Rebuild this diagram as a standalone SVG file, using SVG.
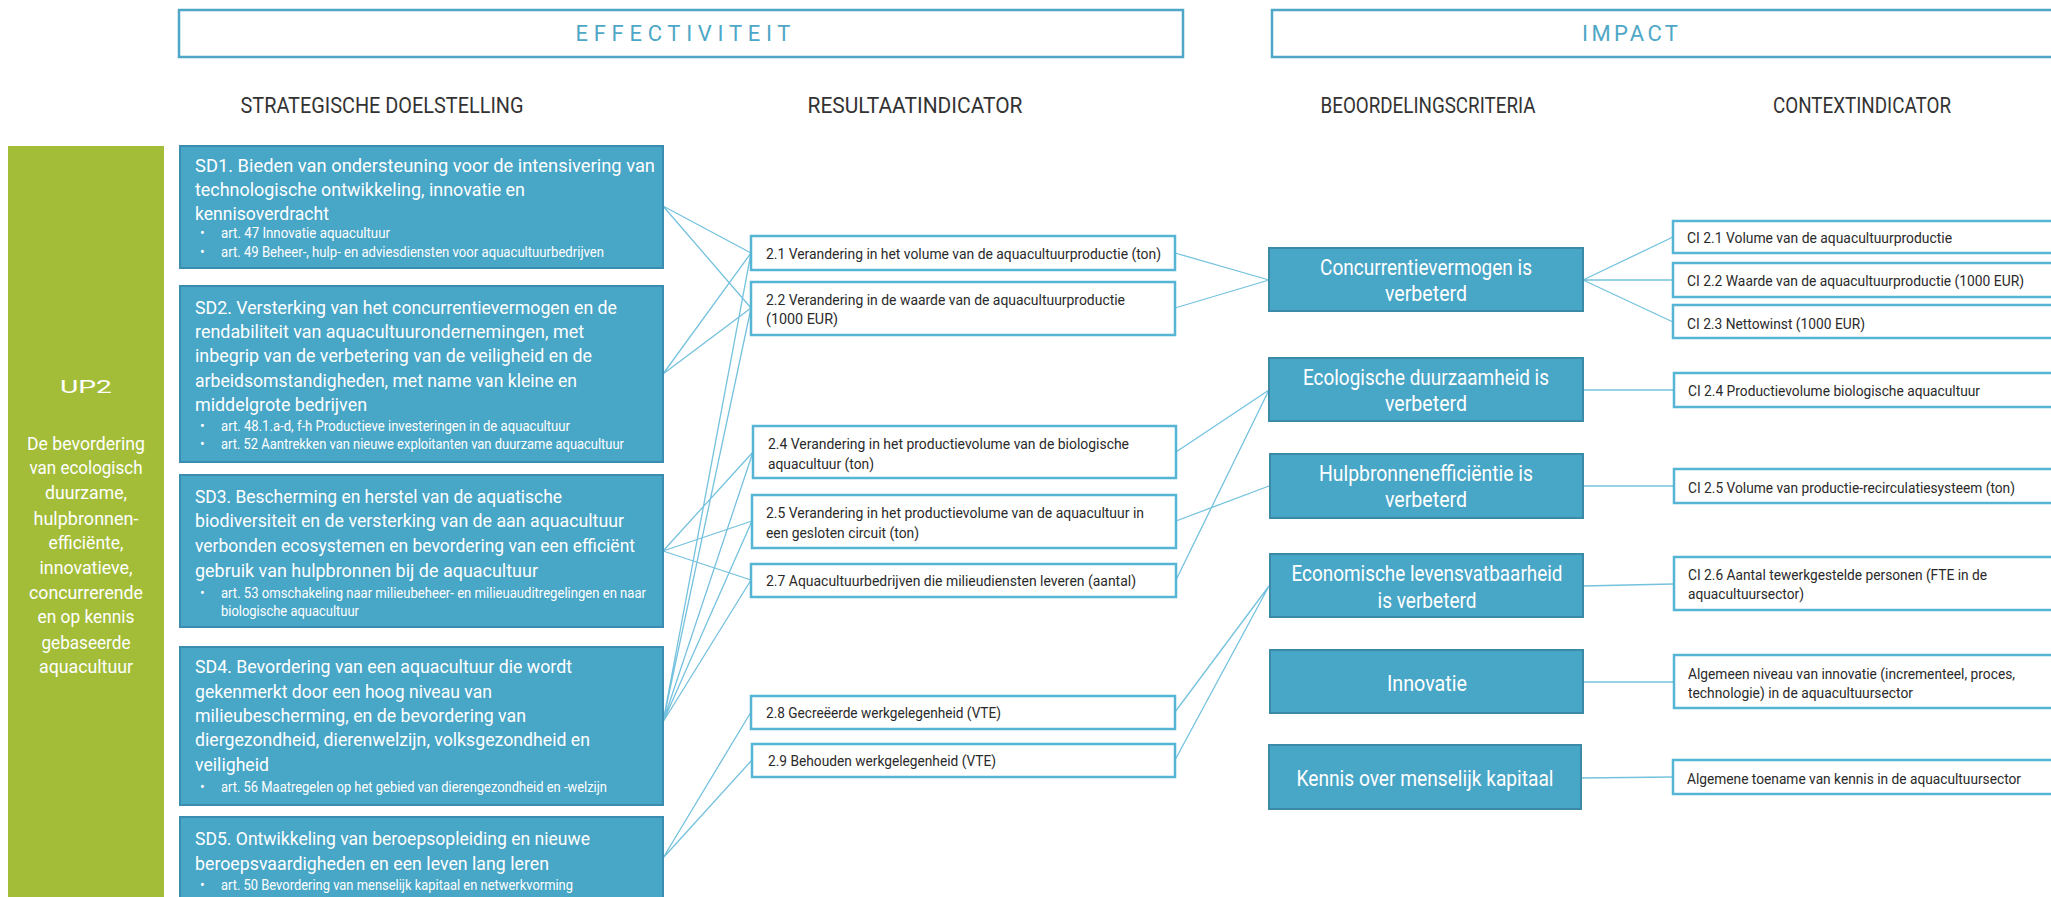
<svg xmlns="http://www.w3.org/2000/svg" width="2051" height="897" viewBox="0 0 2051 897">
<style>
text{font-family:"Roboto","Liberation Sans",sans-serif}
.ttl{fill:none;stroke:#4ea7c6;stroke-width:2.5}
.tt{fill:#4ea7c6;font-size:22px;text-anchor:middle}
.hd{fill:#333;font-size:22px;text-anchor:middle}
.gr{fill:#a3bd38}
.gt{fill:#fff;font-size:19px;text-anchor:middle}
.sd{fill:#48a6c7;stroke:#3a8db0;stroke-width:2}
.st{fill:#fff;font-size:19px}
.sb{fill:#fff;font-size:14px}
.ri{fill:#fff;stroke:#56b4d4;stroke-width:2.5}
.rt{fill:#2a2a2a;font-size:15.5px}
.bc{fill:#48a6c7;stroke:#3a8aa8;stroke-width:2}
.bt{fill:#fff;font-size:22px;text-anchor:middle}
.cn{stroke:#74c2de;stroke-width:1.3;fill:none}
</style>
<g id="title-effectiviteit">
<rect class="ttl" x="179" y="10" width="1004" height="47"/>
<text class="tt" x="683" y="41" textLength="215" lengthAdjust="spacing">EFFECTIVITEIT</text>
</g>
<g id="title-impact">
<rect class="ttl" x="1272" y="10" width="800" height="47"/>
<text class="tt" x="1630" y="41" textLength="96" lengthAdjust="spacing">IMPACT</text>
</g>
<g id="headers">
<text class="hd" x="382" y="113" textLength="283" lengthAdjust="spacingAndGlyphs">STRATEGISCHE DOELSTELLING</text>
<text class="hd" x="915" y="113" textLength="215" lengthAdjust="spacingAndGlyphs">RESULTAATINDICATOR</text>
<text class="hd" x="1428" y="113" textLength="215" lengthAdjust="spacingAndGlyphs">BEOORDELINGSCRITERIA</text>
<text class="hd" x="1862" y="113" textLength="178" lengthAdjust="spacingAndGlyphs">CONTEXTINDICATOR</text>
</g>
<g id="connectors">
<path class="cn" d="M663 206L751 253M663 206L751 308M663 374L751 253M663 374L751 308M663 551L753 452M663 551L752 521M663 551L751 580M663 722L751 253M663 722L751 308M663 722L753 452M663 722L752 521M663 722L751 580M663 858L751 712M663 858L752 760"/>
<path class="cn" d="M1175 253L1269 280M1175 308L1269 280M1176 452L1269 390M1176 580L1269 390M1176 521L1269 486M1175 712L1269 586M1175 760L1269 586"/>
<path class="cn" d="M1583 280L1673 237M1583 280L1673 280M1583 280L1673 322M1583 390L1673 390M1583 486L1673 486M1583 586L1673 584M1583 682L1673 682M1581 778L1673 777"/>
</g>
<g id="up2">
<rect class="gr" x="8" y="146" width="156" height="760"/>
<text class="gt" x="86" y="393" font-size="32" textLength="52" lengthAdjust="spacingAndGlyphs">UP2</text>
<text class="gt" x="86" y="450" textLength="118" lengthAdjust="spacingAndGlyphs">De bevordering</text>
<text class="gt" x="86" y="474" textLength="113" lengthAdjust="spacingAndGlyphs">van ecologisch</text>
<text class="gt" x="86" y="499" textLength="82" lengthAdjust="spacingAndGlyphs">duurzame,</text>
<text class="gt" x="86" y="525" textLength="105" lengthAdjust="spacingAndGlyphs">hulpbronnen-</text>
<text class="gt" x="86" y="549" textLength="75" lengthAdjust="spacingAndGlyphs">efficiënte,</text>
<text class="gt" x="86" y="574" textLength="93" lengthAdjust="spacingAndGlyphs">innovatieve,</text>
<text class="gt" x="86" y="599" textLength="114" lengthAdjust="spacingAndGlyphs">concurrerende</text>
<text class="gt" x="86" y="623" textLength="97" lengthAdjust="spacingAndGlyphs">en op kennis</text>
<text class="gt" x="86" y="649" textLength="89" lengthAdjust="spacingAndGlyphs">gebaseerde</text>
<text class="gt" x="86" y="673" textLength="94" lengthAdjust="spacingAndGlyphs">aquacultuur</text>
</g>
<g id="sd1">
<rect class="sd" x="180" y="146" width="483" height="122"/>
<text class="st" x="195" y="172" textLength="460" lengthAdjust="spacingAndGlyphs">SD1. Bieden van ondersteuning voor de intensivering van</text>
<text class="st" x="195" y="196" textLength="330" lengthAdjust="spacingAndGlyphs">technologische ontwikkeling, innovatie en</text>
<text class="st" x="195" y="220" textLength="134" lengthAdjust="spacingAndGlyphs">kennisoverdracht</text>
<text class="sb" x="200" y="238">•</text><text class="sb" x="221" y="238" textLength="169" lengthAdjust="spacingAndGlyphs">art. 47 Innovatie aquacultuur</text>
<text class="sb" x="200" y="257">•</text><text class="sb" x="221" y="257" textLength="383" lengthAdjust="spacingAndGlyphs">art. 49 Beheer-, hulp- en adviesdiensten voor aquacultuurbedrijven</text>
</g>
<g id="sd2">
<rect class="sd" x="180" y="286" width="483" height="176"/>
<text class="st" x="195" y="314" textLength="422" lengthAdjust="spacingAndGlyphs">SD2. Versterking van het concurrentievermogen en de</text>
<text class="st" x="195" y="338" textLength="389" lengthAdjust="spacingAndGlyphs">rendabiliteit van aquacultuurondernemingen, met</text>
<text class="st" x="195" y="362" textLength="397" lengthAdjust="spacingAndGlyphs">inbegrip van de verbetering van de veiligheid en de</text>
<text class="st" x="195" y="387" textLength="382" lengthAdjust="spacingAndGlyphs">arbeidsomstandigheden, met name van kleine en</text>
<text class="st" x="195" y="411" textLength="172" lengthAdjust="spacingAndGlyphs">middelgrote bedrijven</text>
<text class="sb" x="200" y="431">•</text><text class="sb" x="221" y="431" textLength="349" lengthAdjust="spacingAndGlyphs">art. 48.1.a-d, f-h Productieve investeringen in de aquacultuur</text>
<text class="sb" x="200" y="449">•</text><text class="sb" x="221" y="449" textLength="403" lengthAdjust="spacingAndGlyphs">art. 52 Aantrekken van nieuwe exploitanten van duurzame aquacultuur</text>
</g>
<g id="sd3">
<rect class="sd" x="180" y="475" width="483" height="152"/>
<text class="st" x="195" y="503" textLength="367" lengthAdjust="spacingAndGlyphs">SD3. Bescherming en herstel van de aquatische</text>
<text class="st" x="195" y="527" textLength="429" lengthAdjust="spacingAndGlyphs">biodiversiteit en de versterking van de aan aquacultuur</text>
<text class="st" x="195" y="552" textLength="440" lengthAdjust="spacingAndGlyphs">verbonden ecosystemen en bevordering van een efficiënt</text>
<text class="st" x="195" y="577" textLength="343" lengthAdjust="spacingAndGlyphs">gebruik van hulpbronnen bij de aquacultuur</text>
<text class="sb" x="200" y="598">•</text><text class="sb" x="221" y="598" textLength="425" lengthAdjust="spacingAndGlyphs">art. 53 omschakeling naar milieubeheer- en milieuauditregelingen en naar</text>
<text class="sb" x="221" y="616" textLength="138" lengthAdjust="spacingAndGlyphs">biologische aquacultuur</text>
</g>
<g id="sd4">
<rect class="sd" x="180" y="647" width="483" height="158"/>
<text class="st" x="195" y="673" textLength="377" lengthAdjust="spacingAndGlyphs">SD4. Bevordering van een aquacultuur die wordt</text>
<text class="st" x="195" y="698" textLength="297" lengthAdjust="spacingAndGlyphs">gekenmerkt door een hoog niveau van</text>
<text class="st" x="195" y="722" textLength="331" lengthAdjust="spacingAndGlyphs">milieubescherming, en de bevordering van</text>
<text class="st" x="195" y="746" textLength="395" lengthAdjust="spacingAndGlyphs">diergezondheid, dierenwelzijn, volksgezondheid en</text>
<text class="st" x="195" y="771" textLength="74" lengthAdjust="spacingAndGlyphs">veiligheid</text>
<text class="sb" x="200" y="792">•</text><text class="sb" x="221" y="792" textLength="386" lengthAdjust="spacingAndGlyphs">art. 56 Maatregelen op het gebied van dierengezondheid en -welzijn</text>
</g>
<g id="sd5">
<rect class="sd" x="180" y="817" width="483" height="90"/>
<text class="st" x="195" y="845" textLength="395" lengthAdjust="spacingAndGlyphs">SD5. Ontwikkeling van beroepsopleiding en nieuwe</text>
<text class="st" x="195" y="870" textLength="354" lengthAdjust="spacingAndGlyphs">beroepsvaardigheden en een leven lang leren</text>
<text class="sb" x="200" y="890">•</text><text class="sb" x="221" y="890" textLength="352" lengthAdjust="spacingAndGlyphs">art. 50 Bevordering van menselijk kapitaal en netwerkvorming</text>
</g>
<g id="ri21">
<rect class="ri" x="751" y="236" width="424" height="34"/>
<text class="rt" x="766" y="258.5" textLength="395" lengthAdjust="spacingAndGlyphs">2.1 Verandering in het volume van de aquacultuurproductie (ton)</text>
</g>
<g id="ri22">
<rect class="ri" x="751" y="282" width="424" height="53"/>
<text class="rt" x="766" y="304.5" textLength="359" lengthAdjust="spacingAndGlyphs">2.2 Verandering in de waarde van de aquacultuurproductie</text>
<text class="rt" x="766" y="323.5" textLength="72" lengthAdjust="spacingAndGlyphs">(1000  EUR)</text>
</g>
<g id="ri24">
<rect class="ri" x="753" y="426" width="423" height="52"/>
<text class="rt" x="768" y="448.5" textLength="361" lengthAdjust="spacingAndGlyphs">2.4  Verandering in het productievolume van de biologische</text>
<text class="rt" x="768" y="468.5" textLength="106" lengthAdjust="spacingAndGlyphs">aquacultuur (ton)</text>
</g>
<g id="ri25">
<rect class="ri" x="752" y="495" width="424" height="53"/>
<text class="rt" x="766" y="517.5" textLength="378" lengthAdjust="spacingAndGlyphs">2.5 Verandering in het productievolume van de aquacultuur in</text>
<text class="rt" x="766" y="537.5" textLength="153" lengthAdjust="spacingAndGlyphs">een gesloten circuit (ton)</text>
</g>
<g id="ri27">
<rect class="ri" x="751" y="564" width="425" height="33"/>
<text class="rt" x="766" y="586" textLength="370" lengthAdjust="spacingAndGlyphs">2.7 Aquacultuurbedrijven die milieudiensten leveren (aantal)</text>
</g>
<g id="ri28">
<rect class="ri" x="751" y="696" width="424" height="33"/>
<text class="rt" x="766" y="718" textLength="235" lengthAdjust="spacingAndGlyphs">2.8 Gecreëerde werkgelegenheid (VTE)</text>
</g>
<g id="ri29">
<rect class="ri" x="752" y="744" width="423" height="33"/>
<text class="rt" x="768" y="765.5" textLength="228" lengthAdjust="spacingAndGlyphs">2.9 Behouden werkgelegenheid (VTE)</text>
</g>
<g id="bc-concurrentie">
<rect class="bc" x="1269" y="248" width="314" height="63"/>
<text class="bt" x="1426" y="275" textLength="212" lengthAdjust="spacingAndGlyphs">Concurrentievermogen is</text>
<text class="bt" x="1426" y="301" textLength="82" lengthAdjust="spacingAndGlyphs">verbeterd</text>
</g>
<g id="bc-ecologisch">
<rect class="bc" x="1269" y="358" width="314" height="63"/>
<text class="bt" x="1426" y="385" textLength="246" lengthAdjust="spacingAndGlyphs">Ecologische duurzaamheid is</text>
<text class="bt" x="1426" y="411" textLength="82" lengthAdjust="spacingAndGlyphs">verbeterd</text>
</g>
<g id="bc-hulpbronnen">
<rect class="bc" x="1270" y="454" width="313" height="64"/>
<text class="bt" x="1426" y="481" textLength="214" lengthAdjust="spacingAndGlyphs">Hulpbronnenefficiëntie is</text>
<text class="bt" x="1426" y="507" textLength="82" lengthAdjust="spacingAndGlyphs">verbeterd</text>
</g>
<g id="bc-economisch">
<rect class="bc" x="1270" y="554" width="313" height="63"/>
<text class="bt" x="1427" y="581" textLength="271" lengthAdjust="spacingAndGlyphs">Economische levensvatbaarheid</text>
<text class="bt" x="1427" y="608" textLength="99" lengthAdjust="spacingAndGlyphs">is verbeterd</text>
</g>
<g id="bc-innovatie">
<rect class="bc" x="1270" y="650" width="313" height="63"/>
<text class="bt" x="1427" y="691" textLength="80" lengthAdjust="spacingAndGlyphs">Innovatie</text>
</g>
<g id="bc-kennis">
<rect class="bc" x="1269" y="745" width="312" height="64"/>
<text class="bt" x="1425" y="786" textLength="257" lengthAdjust="spacingAndGlyphs">Kennis over menselijk kapitaal</text>
</g>
<g id="ci21">
<rect class="ri" x="1673" y="221" width="400" height="32"/>
<text class="rt" x="1687" y="242.5" textLength="265" lengthAdjust="spacingAndGlyphs">CI 2.1 Volume van de aquacultuurproductie</text>
</g>
<g id="ci22">
<rect class="ri" x="1673" y="263" width="400" height="34"/>
<text class="rt" x="1687" y="285.5" textLength="337" lengthAdjust="spacingAndGlyphs">CI 2.2 Waarde van de aquacultuurproductie (1000 EUR)</text>
</g>
<g id="ci23">
<rect class="ri" x="1673" y="305" width="400" height="33"/>
<text class="rt" x="1687" y="328.5" textLength="178" lengthAdjust="spacingAndGlyphs">CI 2.3 Nettowinst (1000 EUR)</text>
</g>
<g id="ci24">
<rect class="ri" x="1674" y="373" width="400" height="34"/>
<text class="rt" x="1688" y="395.5" textLength="292" lengthAdjust="spacingAndGlyphs">CI 2.4 Productievolume biologische aquacultuur</text>
</g>
<g id="ci25">
<rect class="ri" x="1674" y="469" width="400" height="34"/>
<text class="rt" x="1688" y="492.5" textLength="327" lengthAdjust="spacingAndGlyphs">CI 2.5 Volume van productie-recirculatiesysteem (ton)</text>
</g>
<g id="ci26">
<rect class="ri" x="1674" y="557" width="400" height="53"/>
<text class="rt" x="1688" y="579.5" textLength="299" lengthAdjust="spacingAndGlyphs">CI 2.6 Aantal tewerkgestelde personen (FTE in de</text>
<text class="rt" x="1688" y="598.5" textLength="116" lengthAdjust="spacingAndGlyphs">aquacultuursector)</text>
</g>
<g id="ci-innovatie">
<rect class="ri" x="1674" y="655" width="400" height="53"/>
<text class="rt" x="1688" y="678.5" textLength="327" lengthAdjust="spacingAndGlyphs">Algemeen niveau van innovatie (incrementeel, proces,</text>
<text class="rt" x="1688" y="697.5" textLength="225" lengthAdjust="spacingAndGlyphs">technologie) in de aquacultuursector</text>
</g>
<g id="ci-kennis">
<rect class="ri" x="1673" y="760" width="400" height="34"/>
<text class="rt" x="1687" y="783.5" textLength="334" lengthAdjust="spacingAndGlyphs">Algemene toename van kennis in de aquacultuursector</text>
</g>
</svg>
